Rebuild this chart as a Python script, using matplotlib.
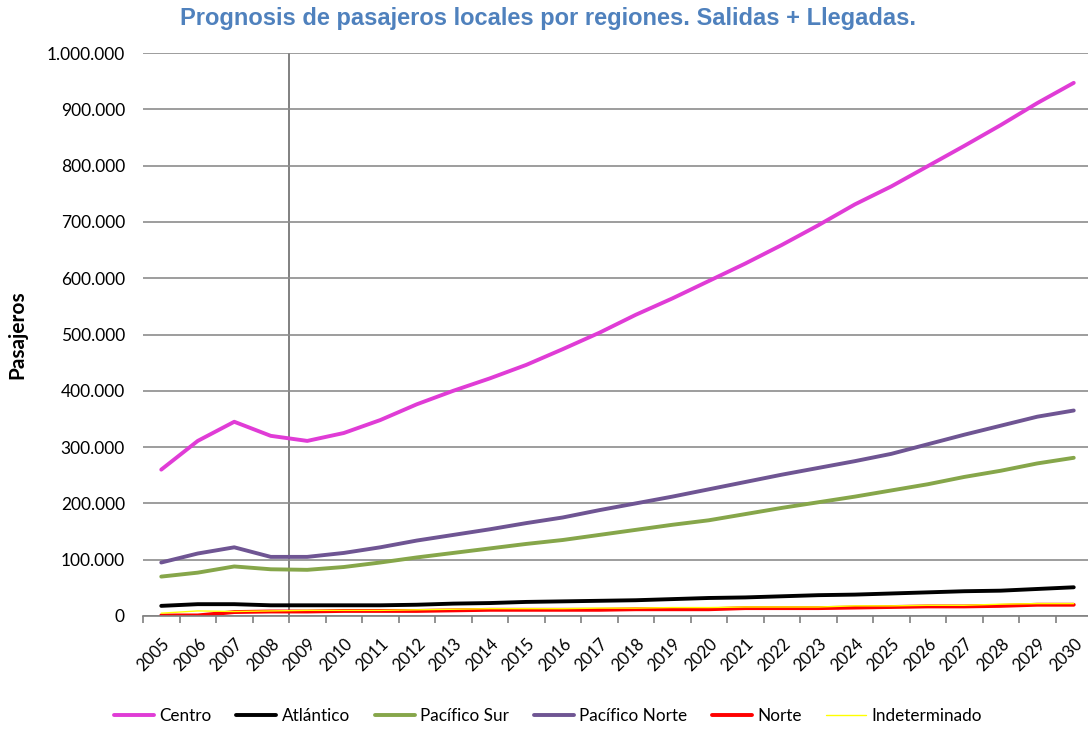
import matplotlib.pyplot as plt
from matplotlib.ticker import FuncFormatter, FixedLocator

years = [str(y) for y in range(2005, 2031)]

centro = [260000, 311000, 345000, 320000, 311000, 325000, 348000, 376000, 400000, 422000,
          446000, 474000, 503000, 535000, 564000, 595000, 626000, 659000, 694000, 731000,
          763000, 799000, 835000, 872000, 911000, 947000]
atlantico = [18000, 21000, 21000, 19000, 19000, 19000, 19000, 20000, 22000, 23000,
             25000, 26000, 27000, 28000, 30000, 32000, 33000, 35000, 37000, 38000,
             40000, 42000, 44000, 45000, 48000, 51000]
pacifico_sur = [70000, 77000, 88000, 83000, 82000, 87000, 95000, 104000, 112000, 120000,
                128000, 135000, 144000, 153000, 162000, 170000, 181000, 192000, 202000, 212000,
                223000, 234000, 247000, 258000, 271000, 281000]
pacifico_norte = [95000, 111000, 122000, 105000, 105000, 112000, 122000, 134000, 144000, 154000,
                  165000, 175000, 188000, 200000, 212000, 225000, 238000, 251000, 263000, 275000,
                  288000, 305000, 322000, 338000, 354000, 365000]
norte = [1000, 1000, 7000, 8000, 8000, 9000, 9000, 9000, 10000, 11000,
         11000, 11000, 11000, 12000, 12000, 12000, 14000, 14000, 14000, 15000,
         16000, 17000, 17000, 18000, 20000, 20000]
indeterminado = [5000, 9000, 8000, 9000, 10000, 10000, 10000, 11000, 12000, 13000,
                 13000, 13000, 14000, 14000, 15000, 15000, 16000, 16000, 16000, 18000,
                 18000, 19000, 19000, 21000, 22000, 22000]

series = [
    ("Centro", centro, "#E03CD6", 2.8),
    ("Atlántico", atlantico, "#000000", 2.8),
    ("Pacífico Sur", pacifico_sur, "#86A64A", 2.8),
    ("Pacífico Norte", pacifico_norte, "#6F5593", 2.8),
    ("Norte", norte, "#FF0000", 2.8),
    ("Indeterminado", indeterminado, "#FFFF00", 1.0),
]

plt.rcParams["font.family"] = ["Lato", "DejaVu Sans"]

fig = plt.figure(figsize=(10.88, 7.31), dpi=100)
ax = fig.add_axes([143 / 1088, 115 / 731, 949 / 1088, 563 / 731])

x = list(range(len(years)))
for name, vals, color, lw in series:
    ax.plot(x, vals, color=color, lw=lw, label=name, solid_capstyle="round",
            solid_joinstyle="round")

ax.set_xlim(-0.5, len(years) - 0.5)
ax.set_ylim(0, 1000000)
ax.set_yticks(range(0, 1000001, 100000))
ax.yaxis.set_major_formatter(FuncFormatter(lambda v, p: f"{int(v):,}".replace(",", ".")))
ax.grid(axis="y", color="#8C8C8C", lw=1.2)
ax.set_axisbelow(True)
ax.axvline(3.5, color="#808080", lw=1.4, zorder=0.5)

ax.set_xticks(x)
ax.set_xticklabels(years, rotation=45, ha="right", rotation_mode="anchor")
ax.xaxis.set_minor_locator(FixedLocator([i - 0.5 for i in range(len(years) + 1)]))
ax.tick_params(axis="x", which="major", length=0, pad=14, labelsize=12)
ax.tick_params(axis="x", which="minor", length=5, color="#808080", width=1.2)
ax.tick_params(axis="y", length=0, pad=13, labelsize=12.5)

for s in ["top", "right", "left"]:
    ax.spines[s].set_visible(False)
ax.spines["bottom"].set_color("#808080")
ax.spines["bottom"].set_linewidth(1.2)

ax.set_ylabel("Pasajeros", fontsize=15, fontweight="bold")
ax.yaxis.set_label_coords(-0.122, 0.5)
fig.text(548 / 1088, 1 - 19 / 731, "Prognosis de pasajeros locales por regiones. Salidas + Llegadas.",
         ha="center", va="center", fontsize=17, fontweight="bold", color="#4F81BD",
         family="Liberation Sans")

fig.legend(loc="center", bbox_to_anchor=(548 / 1088, 1 - 716 / 731), ncol=6, frameon=False,
           fontsize=12.3, handlelength=2.35, columnspacing=1.45, handletextpad=0.3)

fig.savefig("out.png", dpi=100)
